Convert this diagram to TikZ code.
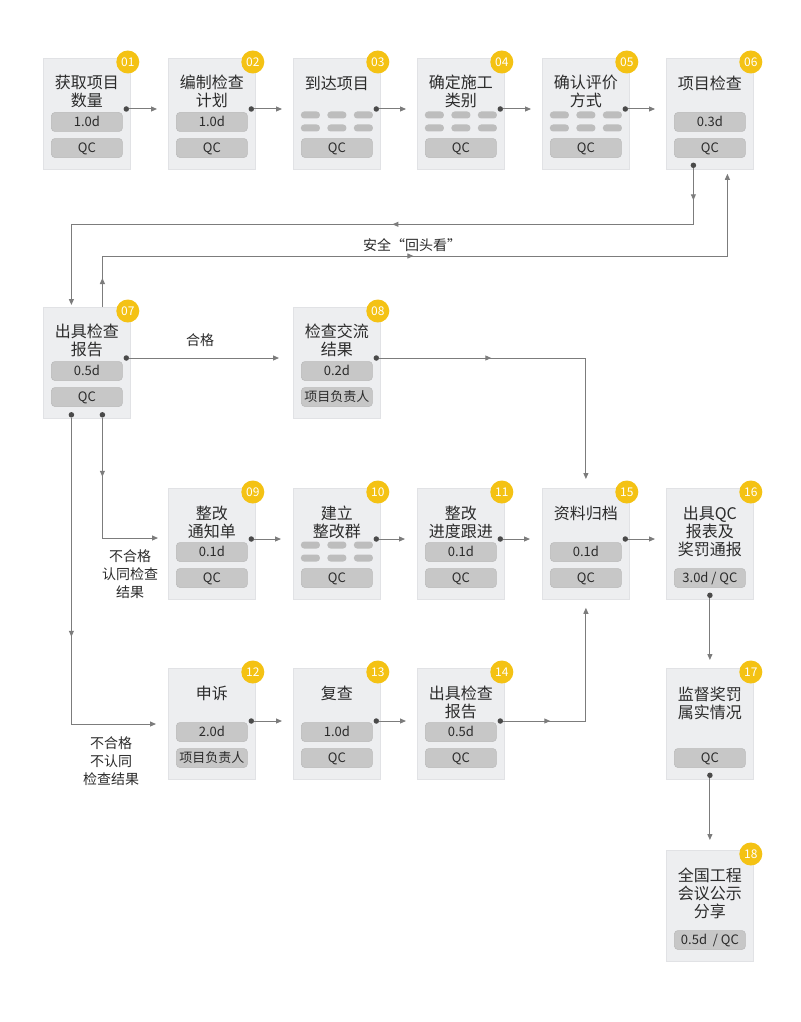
\documentclass[tikz,border=0pt]{standalone}
\usepackage{fontspec}
\setmainfont{Noto Sans CJK SC}
\usetikzlibrary{calc,arrows.meta,decorations.markings}
\definecolor{boxfill}{HTML}{EDEEF0}
\definecolor{boxline}{HTML}{E1E2E5}
\definecolor{pillfill}{HTML}{C7C7C7}
\definecolor{pillline}{HTML}{B9B9B9}
\definecolor{phfill}{HTML}{BDBDBD}
\definecolor{txt}{HTML}{2B2B2B}
\definecolor{linec}{HTML}{7C7C7C}
\definecolor{dotc}{HTML}{4A4A4A}
\definecolor{badgec}{HTML}{F4C214}
\tikzset{
  >={Triangle[length=6pt,width=5pt]},
  stepbox/.style={rectangle, fill=boxfill, draw=boxline, line width=0.8pt,
    minimum width=87pt, minimum height=111pt, inner sep=0pt, anchor=north west},
  badge/.style={circle, fill=badgec, minimum size=23pt, inner sep=0pt,
    text=white, font=\fontsize{12}{12}\selectfont},
  titlet/.style={align=center, text=txt, inner sep=0pt,
    font=\fontsize{16}{18}\selectfont},
  pill/.style={rectangle, rounded corners=3.5pt, fill=pillfill, draw=pillline,
    line width=0.5pt, minimum width=71pt, minimum height=19pt, inner sep=0pt,
    text height=9.4pt, text depth=0pt, text=txt, font=\fontsize{13}{14}\selectfont},
  ph/.style={rectangle, rounded corners=3.2pt, fill=phfill, minimum width=19pt,
    minimum height=7pt, inner sep=0pt},
  dotn/.style={circle, fill=dotc, minimum size=5.5pt, inner sep=0pt},
  conn/.style={draw=linec, line width=1pt, -{>}},
  lbl/.style={align=center, text=txt, inner sep=0pt, font=\fontsize{14}{18}\selectfont},
  marksA/.style={postaction={decorate, decoration={markings,
    mark=at position #1 with {\arrow[linec]{>}}}}},
  marksB/.style 2 args={postaction={decorate, decoration={markings,
    mark=at position #1 with {\arrow[linec]{>}},
    mark=at position #2 with {\arrow[linec]{>}}}}},
}
\newcommand\myflowbox[4]{%
  \node[stepbox] (#1) at (#2,#3) {};
  \node[badge] (#1-badge) at ($(#1.north east)+(-3,4)$) {#4};}
\newcommand\mytitle[3]{\node[titlet] (#1-title) at ($(#1.north)+(0,#2)$) {#3};}
\newcommand\mypillA[2]{\node[pill] (#1-p1) at ($(#1.north)+(0,64)$) {#2};}
\newcommand\mypillB[2]{\node[pill] (#1-p2) at ($(#1.north)+(0,90)$) {#2};}
\newcommand\myph[1]{%
  \foreach \dx/\dy [count=\i] in {-26.5/57,0/57,26.5/57,-26.5/70,0/70,26.5/70}
    {\node[ph] (#1-ph\i) at ($(#1.north)+(\dx,\dy)$) {};}}
\newcommand\myrdot[1]{\node[dotn] (#1-d) at ($(#1.north east)+(-4.5,51)$) {};}
\begin{document}
\begin{tikzpicture}[x=1pt,y=-1pt]
\fill[white] (0,0) rectangle (800,1022);
\useasboundingbox (0,0) rectangle (800,1022);

% ---------- row 1 ----------
\myflowbox{b01}{43}{58}{01}
\mytitle{b01}{33}{获取项目\\数量}
\mypillA{b01}{1.0d}\mypillB{b01}{QC}\myrdot{b01}

\myflowbox{b02}{168}{58}{02}
\mytitle{b02}{33}{编制检查\\计划}
\mypillA{b02}{1.0d}\mypillB{b02}{QC}\myrdot{b02}

\myflowbox{b03}{293}{58}{03}
\mytitle{b03}{25}{到达项目}
\myph{b03}\mypillB{b03}{QC}\myrdot{b03}

\myflowbox{b04}{417}{58}{04}
\mytitle{b04}{33}{确定施工\\类别}
\myph{b04}\mypillB{b04}{QC}\myrdot{b04}

\myflowbox{b05}{542}{58}{05}
\mytitle{b05}{33}{确认评价\\方式}
\myph{b05}\mypillB{b05}{QC}\myrdot{b05}

\myflowbox{b06}{666}{58}{06}
\mytitle{b06}{25}{项目检查}
\mypillA{b06}{0.3d}\mypillB{b06}{QC}
\node[dotn] (b06-db) at ($(b06.south)+(-16.5,-4.5)$) {};

% ---------- row 2 ----------
\myflowbox{b07}{43}{307}{07}
\mytitle{b07}{33}{出具检查\\报告}
\mypillA{b07}{0.5d}\mypillB{b07}{QC}\myrdot{b07}
\node[dotn] (b07-dl) at ($(b07.south)+(-15.5,-4)$) {};
\node[dotn] (b07-dr) at ($(b07.south)+(15.5,-4)$) {};

\myflowbox{b08}{293}{307}{08}
\mytitle{b08}{33}{检查交流\\结果}
\mypillA{b08}{0.2d}\mypillB{b08}{项目负责人}\myrdot{b08}

% ---------- row 3 ----------
\myflowbox{b09}{168}{488}{09}
\mytitle{b09}{34}{整改\\通知单}
\mypillA{b09}{0.1d}\mypillB{b09}{QC}\myrdot{b09}

\myflowbox{b10}{293}{488}{10}
\mytitle{b10}{34}{建立\\整改群}
\myph{b10}\mypillB{b10}{QC}\myrdot{b10}

\myflowbox{b11}{417}{488}{11}
\mytitle{b11}{34}{整改\\进度跟进}
\mypillA{b11}{0.1d}\mypillB{b11}{QC}\myrdot{b11}

\myflowbox{b15}{542}{488}{15}
\mytitle{b15}{25}{资料归档}
\mypillA{b15}{0.1d}\mypillB{b15}{QC}\myrdot{b15}

\myflowbox{b16}{666}{488}{16}
\mytitle{b16}{43}{出具QC\\报表及\\奖罚通报}
\mypillB{b16}{3.0d / QC}
\node[dotn] (b16-db) at ($(b16.south)+(0,-4.5)$) {};

% ---------- row 4 ----------
\myflowbox{b12}{168}{668}{12}
\mytitle{b12}{25}{申诉}
\mypillA{b12}{2.0d}\mypillB{b12}{项目负责人}
\node[dotn] (b12-d) at ($(b12.north east)+(-4.5,53)$) {};

\myflowbox{b13}{293}{668}{13}
\mytitle{b13}{25}{复查}
\mypillA{b13}{1.0d}\mypillB{b13}{QC}
\node[dotn] (b13-d) at ($(b13.north east)+(-4.5,53)$) {};

\myflowbox{b14}{417}{668}{14}
\mytitle{b14}{34}{出具检查\\报告}
\mypillA{b14}{0.5d}\mypillB{b14}{QC}
\node[dotn] (b14-d) at ($(b14.north east)+(-4.5,53)$) {};

\myflowbox{b17}{666}{668}{17}
\mytitle{b17}{35}{监督奖罚\\属实情况}
\mypillB{b17}{QC}
\node[dotn] (b17-db) at ($(b17.south)+(0,-4.5)$) {};

% ---------- row 5 ----------
\myflowbox{b18}{666}{850}{18}
\mytitle{b18}{43}{全国工程\\会议公示\\分享}
\mypillB{b18}{0.5d\ \ / QC}

% ---------- connectors ----------
\draw[conn, shorten >=11pt] (b01-d) -- (b01-d -| b02.west);
\draw[conn, shorten >=11pt] (b02-d) -- (b02-d -| b03.west);
\draw[conn, shorten >=11pt] (b03-d) -- (b03-d -| b04.west);
\draw[conn, shorten >=11pt] (b04-d) -- (b04-d -| b05.west);
\draw[conn, shorten >=11pt] (b05-d) -- (b05-d -| b06.west);

\draw[conn, marksB={32pt}{357pt}] (b06-db) -- ++(0,59) -| ($(b07.north)+(-15.5,-2)$);
\draw[conn, marksB={29pt}{362pt}] ($(b07.north)+(15.5,0)$) -- ++(0,-51) -| ($(b06.south)+(17.5,4)$);
\node[lbl] (lsafe) at (412,245) {安全“回头看”};

\draw[conn, shorten >=14pt] (b07-d) -- (b07-d -| b08.west);
\node[lbl] (lok) at (200,340) {合格};

\draw[conn, marksA={112pt}] (b08-d) -| ($(b15.north)+(0,-9)$);

\draw[conn, marksA={59pt}] (b07-dr) |- ($(b09.north west)+(-10,50)$);
\node[lbl] (lyes) at (130,574) {不合格\\认同检查\\结果};

\draw[conn, marksA={219pt}] (b07-dl) |- ($(b12.north west)+(-12,56)$);
\node[lbl] (lno) at (111,761) {不合格\\不认同\\检查结果};

\draw[conn, shorten >=12pt] (b09-d) -- (b09-d -| b10.west);
\draw[conn, shorten >=12pt] (b10-d) -- (b10-d -| b11.west);
\draw[conn, shorten >=12pt] (b11-d) -- (b11-d -| b15.west);
\draw[conn, shorten >=11pt] (b15-d) -- (b15-d -| b16.west);

\draw[conn, shorten >=11pt] (b12-d) -- (b12-d -| b13.west);
\draw[conn, shorten >=11pt] (b13-d) -- (b13-d -| b14.west);
\draw[conn, marksA={47pt}] (b14-d) -| ($(b15.south)+(0,8)$);

\draw[conn, shorten >=8pt] (b16-db) -- (b17.north);
\draw[conn, shorten >=10pt] (b17-db) -- (b18.north);
\end{tikzpicture}
\end{document}
